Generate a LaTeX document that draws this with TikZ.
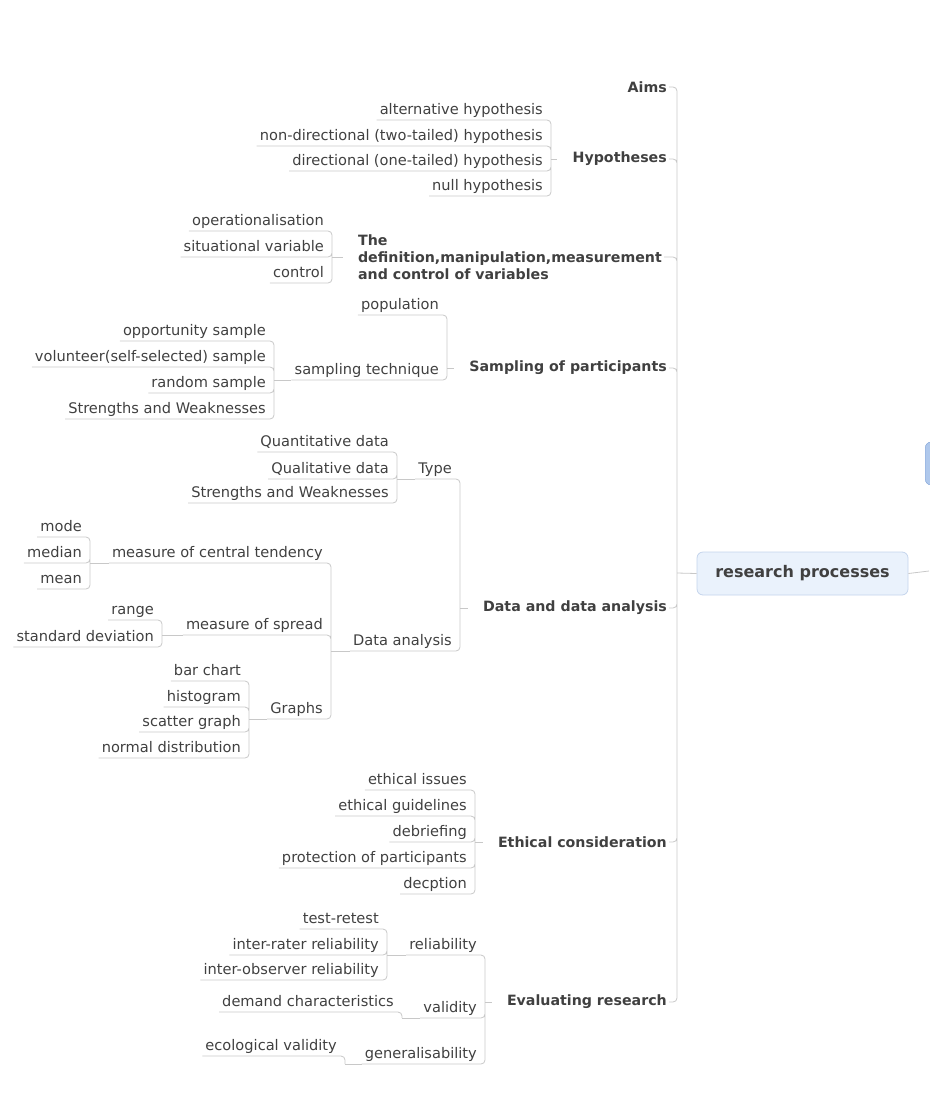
\documentclass[tikz,border=0pt]{standalone}
\usepackage{fontspec}
\setmainfont{DejaVu Sans}
\usepackage{tikz}
\definecolor{ink}{HTML}{404040}
\definecolor{wire}{HTML}{C8C8C8}
\definecolor{rootfill}{HTML}{EAF2FC}
\definecolor{rootline}{HTML}{C4D4EC}
\definecolor{sidefill}{HTML}{AFC8EC}
\definecolor{sideline}{HTML}{7FA2D6}

\begin{document}
\begin{tikzpicture}[x=1pt,y=-1pt,
  leaf/.style={anchor=south east,inner xsep=3pt,inner ysep=2pt,text depth=3pt,text=ink,font=\fontsize{14.6}{16}\selectfont},
  topic/.style={anchor=east,inner xsep=2pt,inner ysep=1pt,text=ink,font=\fontsize{14.2}{17}\selectfont\bfseries},
  root/.style={draw=rootline,fill=rootfill,line width=0.8pt,rounded corners=6pt,minimum width=211pt,minimum height=43pt,text=ink,font=\fontsize{16}{19}\selectfont\bfseries},
  conn/.style={draw=wire,line width=0.8pt,rounded corners=4pt},
  tick/.style={conn,shorten >=13pt}]
\useasboundingbox (0,0) rectangle (929,1118);

\node[root] (rp) at (802.5,573.5) {research processes};
\node[draw=sideline,fill=sidefill,rounded corners=6pt,minimum width=40pt,minimum height=43pt,anchor=west] (next) at (925,463.5) {};
\coordinate (mainj) at (677,573);
\coordinate (edge) at (929,571);

\node[topic] (aims) at (669,87) {Aims};
\node[topic] (hyp) at (669,159) {Hypotheses};
\node[topic,align=left,anchor=east] (defv) at (664,257) {The\\definition,manipulation,measurement\\and control of variables};
\node[topic] (samp) at (669,368) {Sampling of participants};
\node[topic] (data) at (669,608) {Data and data analysis};
\node[topic] (ethic) at (669,842) {Ethical consideration};
\node[topic] (evalr) at (669,1002) {Evaluating research};

% hypotheses
\node[leaf] (alth) at (546,120) {alternative hypothesis};
\node[leaf] (nondh) at (546,146) {non-directional (two-tailed) hypothesis};
\node[leaf] (dirh) at (546,171) {directional (one-tailed) hypothesis};
\node[leaf] (nullh) at (546,196) {null hypothesis};
\coordinate (hypj) at (551,159);

% variables
\node[leaf] (oper) at (327,231) {operationalisation};
\node[leaf] (sitv) at (327,257) {situational variable};
\node[leaf] (ctrl) at (327,283) {control};
\coordinate (defj) at (332,257);

% sampling
\node[leaf] (popn) at (442,315) {population};
\node[leaf] (stech) at (442,380) {sampling technique};
\coordinate (sampj) at (447,368);
\node[leaf] (opps) at (269,341) {opportunity sample};
\node[leaf] (vols) at (269,367) {volunteer(self-selected) sample};
\node[leaf] (rands) at (269,393) {random sample};
\node[leaf] (swsamp) at (269,419) {Strengths and Weaknesses};
\coordinate (stechj) at (274,380);

% data
\node[leaf] (dtype) at (455,479) {Type};
\node[leaf] (danal) at (455,651) {Data analysis};
\coordinate (dataj) at (460,608);
\node[leaf] (quant) at (392,452) {Quantitative data};
\node[leaf] (qual) at (392,479) {Qualitative data};
\node[leaf] (swdata) at (392,503) {Strengths and Weaknesses};
\coordinate (dtypej) at (397,479);
\node[leaf] (mct) at (326,563) {measure of central tendency};
\node[leaf] (mspr) at (326,635) {measure of spread};
\node[leaf] (graphs) at (326,719) {Graphs};
\coordinate (danalj) at (331,651);
\node[leaf] (mode) at (85,537) {mode};
\node[leaf] (median) at (85,563) {median};
\node[leaf] (mean) at (85,589) {mean};
\coordinate (mctj) at (90,563);
\node[leaf] (range) at (157,620) {range};
\node[leaf] (sdev) at (157,647) {standard deviation};
\coordinate (msprj) at (162,635);
\node[leaf] (bar) at (244,681) {bar chart};
\node[leaf] (hist) at (244,707) {histogram};
\node[leaf] (scat) at (244,732) {scatter graph};
\node[leaf] (norm) at (244,758) {normal distribution};
\coordinate (graphsj) at (249,719);

% ethics
\node[leaf] (eiss) at (470,790) {ethical issues};
\node[leaf] (eguide) at (470,816) {ethical guidelines};
\node[leaf] (debr) at (470,842) {debriefing};
\node[leaf] (prot) at (470,868) {protection of participants};
\node[leaf] (decp) at (470,894) {decption};
\coordinate (ethicj) at (475,842);

% evaluating
\node[leaf] (relb) at (480,955) {reliability};
\node[leaf] (valid) at (480,1018) {validity};
\node[leaf] (gener) at (480,1064) {generalisability};
\coordinate (evalrj) at (485,1002);
\node[leaf] (trt) at (382,929) {test-retest};
\node[leaf] (irr) at (382,955) {inter-rater reliability};
\node[leaf] (ior) at (382,980) {inter-observer reliability};
\coordinate (relbj) at (387,955);
\node[leaf] (dchar) at (397,1012) {demand characteristics};
\coordinate (validj) at (402,1018);
\node[leaf] (ecov) at (340,1056) {ecological validity};
\coordinate (generj) at (345,1064);

% connectors
\draw[conn] (aims.east) -| (mainj) (hyp.east) -| (mainj) (defv.east) -| (mainj) (samp.east) -| (mainj)
  (data.east) -| (mainj) (ethic.east) -| (mainj) (evalr.east) -| (mainj);
\draw[conn] (mainj) -- (rp.west) (rp.east) -- (edge);

\draw[conn] (alth.south west) -| (hypj) (nondh.south west) -| (hypj) (dirh.south west) -| (hypj) (nullh.south west) -| (hypj);
\draw[tick] (hypj) -- (hyp.west);
\draw[conn] (oper.south west) -| (defj) (sitv.south west) -| (defj) (ctrl.south west) -| (defj);
\draw[tick] (defj) -- (defv.west |- defj);
\draw[conn] (popn.south west) -| (sampj) (stech.south west) -| (sampj);
\draw[tick] (sampj) -- (samp.west);
\draw[conn] (opps.south west) -| (stechj) (vols.south west) -| (stechj) (rands.south west) -| (stechj) (swsamp.south west) -| (stechj);
\draw[conn] (stechj) -- (stech.south west);
\draw[conn] (dtype.south west) -| (dataj) (danal.south west) -| (dataj);
\draw[tick] (dataj) -- (data.west);
\draw[conn] (quant.south west) -| (dtypej) (qual.south west) -| (dtypej) (swdata.south west) -| (dtypej);
\draw[conn] (dtypej) -- (dtype.south west);
\draw[conn] (mct.south west) -| (danalj) (mspr.south west) -| (danalj) (graphs.south west) -| (danalj);
\draw[conn] (danalj) -- (danal.south west);
\draw[conn] (mode.south west) -| (mctj) (median.south west) -| (mctj) (mean.south west) -| (mctj);
\draw[conn] (mctj) -- (mct.south west);
\draw[conn] (range.south west) -| (msprj) (sdev.south west) -| (msprj);
\draw[conn] (msprj) -- (mspr.south west);
\draw[conn] (bar.south west) -| (graphsj) (hist.south west) -| (graphsj) (scat.south west) -| (graphsj) (norm.south west) -| (graphsj);
\draw[conn] (graphsj) -- (graphs.south west);
\draw[conn] (eiss.south west) -| (ethicj) (eguide.south west) -| (ethicj) (debr.south west) -| (ethicj) (prot.south west) -| (ethicj) (decp.south west) -| (ethicj);
\draw[tick] (ethicj) -- (ethic.west);
\draw[conn] (relb.south west) -| (evalrj) (valid.south west) -| (evalrj) (gener.south west) -| (evalrj);
\draw[tick] (evalrj) -- (evalr.west);
\draw[conn] (trt.south west) -| (relbj) (irr.south west) -| (relbj) (ior.south west) -| (relbj);
\draw[conn] (relbj) -- (relb.south west);
\draw[conn] (dchar.south west) -| (validj);
\draw[conn] (validj) -- (valid.south west);
\draw[conn] (ecov.south west) -| (generj);
\draw[conn] (generj) -- (gener.south west);
\end{tikzpicture}
\end{document}
